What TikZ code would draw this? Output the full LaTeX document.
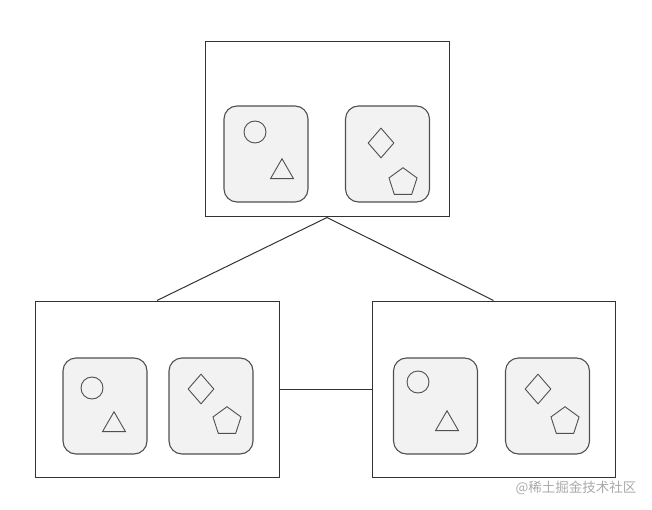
\documentclass[tikz,border=0pt]{standalone}
\usepackage{fontspec}
\newfontfamily\cjkfont{Noto Sans CJK SC}
\usepackage{tikz}
\usetikzlibrary{shapes.geometric}
\usepackage{xcolor}
\definecolor{edgegray}{RGB}{51,51,51}
\definecolor{shapegray}{RGB}{80,80,80}
\definecolor{panelfill}{RGB}{242,242,242}
\definecolor{markgray}{RGB}{170,170,170}
\tikzset{%
    host/.style={draw=edgegray, line width=1pt, fill=white, inner sep=0pt},
    panel/.style={draw=shapegray, line width=1.1pt, fill=panelfill, rounded corners=13pt,
        minimum width=84pt, minimum height=96pt, inner sep=0pt},
    ring/.style={circle, draw=shapegray, line width=0.9pt, fill=panelfill, minimum size=22pt, inner sep=0pt},
    tri/.style={regular polygon, regular polygon sides=3, draw=shapegray, line width=0.9pt,
        fill=panelfill, minimum size=26.5pt, inner sep=0pt},
    rhomb/.style={diamond, draw=shapegray, line width=0.9pt, fill=panelfill,
        minimum width=26pt, minimum height=30pt, inner sep=0pt},
    penta/.style={regular polygon, regular polygon sides=5, draw=shapegray, line width=0.9pt,
        fill=panelfill, minimum size=29.5pt, inner sep=0pt}
}
\begin{document}
\begin{tikzpicture}[x=1pt,y=-1pt]
    \useasboundingbox (0,0) rectangle (652,510);
%-----------------------------------------------
    \node[host, minimum width=244pt, minimum height=175pt] (top) at (327,129.5) {};
    \node[host, minimum width=244pt, minimum height=176pt] (left) at (157,389) {};
    \node[host, minimum width=243pt, minimum height=176pt] (right) at (493.5,389) {};
%-----------------------------------------------
    \draw[edgegray, line width=1pt] (top.south) -- (left.north);
    \draw[edgegray, line width=1pt] (top.south) -- (right.north);
    \draw[edgegray, line width=1pt] (left.east) -- (right.west);
%-----------------------------------------------
    \node[panel] (topA) at (266,154) {};
    \node[panel] (topB) at (387.5,154) {};
    \node[ring] (topcircle) at (255,132) {};
    \node[tri] (toptri) at (282,172) {};
    \node[rhomb] (topdiamond) at (381,143) {};
    \node[penta] (toppenta) at (403,182.5) {};
%-----------------------------------------------
    \node[panel] (leftA) at (105,406) {};
    \node[panel] (leftB) at (211,406) {};
    \node[ring] (leftcircle) at (92,388) {};
    \node[tri] (lefttri) at (114,425) {};
    \node[rhomb] (leftdiamond) at (201,389) {};
    \node[penta] (leftpenta) at (227,421.5) {};
%-----------------------------------------------
    \node[panel] (rightA) at (435.5,406) {};
    \node[panel] (rightB) at (547.5,406) {};
    \node[ring] (rightcircle) at (418,382) {};
    \node[tri] (righttri) at (447,424) {};
    \node[rhomb] (rightdiamond) at (538,389) {};
    \node[penta] (rightpenta) at (565,421.5) {};
%-----------------------------------------------
    \node[text=markgray, font=\cjkfont\fontsize{13.5}{15}\selectfont] (mark) at (576,488) {@稀土掘金技术社区};
\end{tikzpicture}
\end{document}
